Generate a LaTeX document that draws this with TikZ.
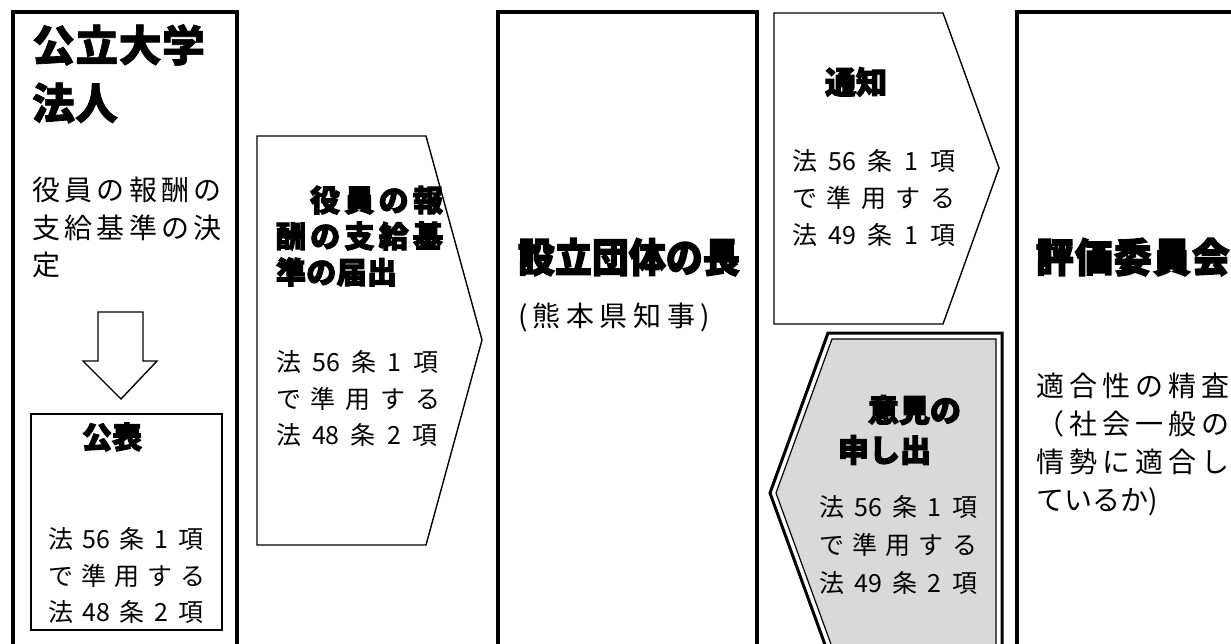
\documentclass[tikz,border=0pt]{standalone}
\usepackage{fontspec}
\usepackage{graphicx}
\setmainfont{Noto Sans CJK JP}[BoldFeatures={FakeBold=1.5}]
\newfontfamily\ubf{Noto Sans CJK JP}[BoldFeatures={FakeBold=3.5}]
\newfontfamily\pjp{Noto Sans CJK JP}[CharacterWidth=Proportional]
\newcommand\SP[2]{\hbox to #1pt{#2}}
\newcommand\TL[6]{\node[tx, font=\fontsize{#4}{#4}\selectfont#5] (#1) at (#2,{#3+0.38*#4}) {#6};}
\definecolor{shade}{HTML}{D9D9D9}
\tikzset{
  bigbox/.style={draw=black, line width=3.2pt, fill=white},
  thinshape/.style={draw=black, line width=1.4pt, fill=white},
  tx/.style={anchor=base west, inner sep=0pt, outer sep=0pt},
}
\begin{document}
\begin{tikzpicture}[x=1pt, y=-1pt]
\useasboundingbox (0,0) rectangle (1231,643);
\clip (0,0) rectangle (1231,643);
\fill[white] (0,0) rectangle (1231,643);

% column boxes
\draw[bigbox] (13,12) rectangle (237,670);
\draw[bigbox] (498,12) rectangle (757,670);
\draw[bigbox] (1017,12) rectangle (1260,670);

% left column
\TL{ta}{32}{45}{43}{\bfseries}{\SP{173}{公\hfil 立\hfil 大\hfil 学}}
\TL{tb}{32}{103}{43}{\bfseries}{\SP{86}{法\hfil 人}}
\TL{tc}{32}{190}{28}{}{\SP{190}{役\hfil 員\hfil の\hfil 報\hfil 酬\hfil の}}
\TL{td}{32}{228}{28}{}{\SP{190}{支\hfil 給\hfil 基\hfil 準\hfil の\hfil 決}}
\TL{te}{32}{265}{28}{}{定}
\draw[thinshape] (98,312) -- (143,312) -- (143,361) -- (157,361) -- (121,399) -- (83,361) -- (98,361) -- cycle;
\draw[thinshape] (31,414) rectangle (222,630);
\TL{tf}{82}{437}{30}{\ubf\bfseries}{\SP{60}{公\hfil 表}}
\TL{tg}{48}{539}{25}{}{\SP{155}{法\hfil 56\hfil 条\hfil 1\hfil 項}}
\TL{th}{48}{576}{25}{}{\SP{157}{で\hfil 準\hfil 用\hfil す\hfil る}}
\TL{ti}{48}{612}{25}{}{\SP{155}{法\hfil 48\hfil 条\hfil 2\hfil 項}}

% report pentagon
\draw[thinshape] (257,136) -- (426,136) -- (482,340) -- (426,545) -- (257,545) -- cycle;
\TL{ma}{310}{200}{30}{\ubf\bfseries}{\SP{133}{役\hfil 員\hfil の\hfil 報}}
\TL{mb}{276}{236}{30}{\ubf\bfseries}{\SP{167}{酬\hfil の\hfil 支\hfil 給\hfil 基}}
\TL{mc}{276}{272}{30}{\ubf\bfseries}{\SP{121}{準\hfil の\hfil 届\hfil 出}}
\TL{md}{276}{362}{25}{}{\SP{162}{法\hfil 56\hfil 条\hfil 1\hfil 項}}
\TL{me}{276}{399}{25}{}{\SP{164}{で\hfil 準\hfil 用\hfil す\hfil る}}
\TL{mf}{276}{435}{25}{}{\SP{161}{法\hfil 48\hfil 条\hfil 2\hfil 項}}

% founding body
\TL{sa}{518}{257}{40}{\ubf\bfseries}{\scalebox{0.92}[1]{\SP{241}{設\hfil 立\hfil 団\hfil 体\hfil の\hfil 長}}}
\TL{sb}{518}{316}{28}{}{\SP{192}{(\hfil 熊\hfil 本\hfil 県\hfil 知\hfil 事\hfil )}}

% notice pentagon
\draw[thinshape] (774,13) -- (943,13) -- (999,168) -- (943,324) -- (774,324) -- cycle;
\TL{na}{825}{82}{31}{\ubf\bfseries}{\SP{62}{通\hfil 知}}
\TL{nb}{792}{161}{25}{}{\SP{163}{法\hfil 56\hfil 条\hfil 1\hfil 項}}
\TL{nc}{792}{198}{25}{}{\SP{163}{で\hfil 準\hfil 用\hfil す\hfil る}}
\TL{nd}{792}{235}{25}{}{\SP{163}{法\hfil 49\hfil 条\hfil 1\hfil 項}}

% opinion pentagon (grey, double border)
\draw[draw=black, line width=3pt, fill=white] (1002,333) -- (828,333) -- (770,493) -- (828,653) -- (1002,653) -- cycle;
\draw[draw=black, line width=1.2pt, fill=shade] (996,339) -- (832,339) -- (776,493) -- (832,647) -- (996,647) -- cycle;
\TL{ga}{868}{410}{31}{\ubf\bfseries}{\SP{92}{意\hfil 見\hfil の}}
\TL{gb}{838}{450}{31}{\ubf\bfseries}{\SP{90}{申\hfil し\hfil 出}}
\TL{gc}{819}{507}{25}{}{\SP{158}{法\hfil 56\hfil 条\hfil 1\hfil 項}}
\TL{gd}{819}{545}{25}{}{\SP{158}{で\hfil 準\hfil 用\hfil す\hfil る}}
\TL{ge}{819}{583}{25}{}{\SP{158}{法\hfil 49\hfil 条\hfil 2\hfil 項}}

% evaluation committee
\TL{ha}{1036}{257}{40}{\ubf\bfseries}{\scalebox{0.94}[1]{\SP{206}{評\hfil 価\hfil 委\hfil 員\hfil 会}}}
\TL{hb}{1036}{386}{28}{}{\SP{194}{適\hfil 合\hfil 性\hfil の\hfil 精\hfil 査}}
\TL{hc}{1036}{424}{28}{}{\SP{194}{（\hfil 社\hfil 会\hfil 一\hfil 般\hfil の}}
\TL{hd}{1036}{462}{28}{}{\SP{194}{情\hfil 勢\hfil に\hfil 適\hfil 合\hfil し}}
\TL{he}{1036}{500}{28}{\pjp}{ているか）}
\end{tikzpicture}
\end{document}
